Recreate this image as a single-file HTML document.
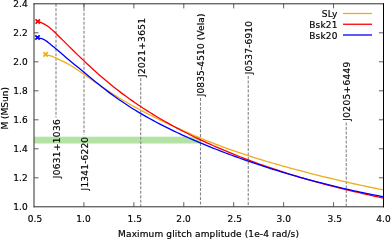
<!DOCTYPE html>
<html><head><meta charset="utf-8"><title>plot</title>
<style>
html,body{margin:0;padding:0;background:#fff;}
svg{display:block;will-change:transform;opacity:0.999;}
text{font-family:"DejaVu Sans","Liberation Sans",sans-serif;font-size:9px;fill:#000;stroke:#000;stroke-width:0.18px;}
</style></head><body>
<svg width="391" height="240" viewBox="0 0 391 240">
<rect x="0" y="0" width="391" height="240" fill="#ffffff"/>

<rect x="34.0" y="136.7" width="166.5" height="6.8" fill="#b4e3a5"/>
<line x1="56.0" y1="3.8" x2="56.0" y2="117.5" stroke="#858585" stroke-width="1.1" stroke-dasharray="3,1.5"/>
<line x1="84.0" y1="3.8" x2="84.0" y2="134.7" stroke="#858585" stroke-width="1.1" stroke-dasharray="3,1.5"/>
<line x1="140.7" y1="78.2" x2="140.7" y2="206.8" stroke="#858585" stroke-width="1.1" stroke-dasharray="3,1.5"/>
<line x1="200.5" y1="98.0" x2="200.5" y2="206.8" stroke="#858585" stroke-width="1.1" stroke-dasharray="3,1.5"/>
<line x1="248.25" y1="76.0" x2="248.25" y2="206.8" stroke="#858585" stroke-width="1.1" stroke-dasharray="3,1.5"/>
<line x1="346.25" y1="122.4" x2="346.25" y2="206.8" stroke="#858585" stroke-width="1.1" stroke-dasharray="3,1.5"/>
<path d="M45.60,54.40 L46.60,54.81 L47.60,55.11 L48.60,55.35 L49.60,55.58 L50.60,55.85 L51.60,56.20 L52.60,56.59 L53.60,57.02 L54.60,57.48 L55.60,57.95 L56.60,58.44 L57.60,58.91 L58.60,59.38 L59.60,59.84 L60.00,60.02 L63.00,61.40 L66.00,62.87 L69.00,64.50 L72.00,66.28 L75.00,68.18 L78.00,70.17 L81.00,72.22 L84.00,74.30 L87.00,76.40 L90.00,78.51 L93.00,80.62 L96.00,82.73 L99.00,84.81 L102.00,86.86 L105.00,88.88 L108.00,90.86 L111.00,92.81 L114.00,94.72 L117.00,96.60 L120.00,98.45 L123.00,100.25 L126.00,102.02 L129.00,103.76 L132.00,105.46 L135.00,107.13 L138.00,108.76 L141.00,110.36 L144.00,111.94 L147.00,113.48 L150.00,115.00 L153.00,116.50 L156.00,117.97 L159.00,119.43 L162.00,120.87 L165.00,122.29 L168.00,123.69 L171.00,125.09 L174.00,126.47 L177.00,127.84 L180.00,129.20 L183.00,130.54 L186.00,131.87 L189.00,133.19 L192.00,134.49 L195.00,135.78 L198.00,137.05 L201.00,138.31 L204.00,139.55 L207.00,140.77 L210.00,141.97 L213.00,143.16 L216.00,144.33 L219.00,145.48 L222.00,146.61 L225.00,147.71 L228.00,148.80 L231.00,149.88 L234.00,150.93 L237.00,151.97 L240.00,152.99 L243.00,153.99 L246.00,154.98 L249.00,155.95 L252.00,156.91 L255.00,157.85 L258.00,158.79 L261.00,159.70 L264.00,160.61 L267.00,161.50 L270.00,162.38 L273.00,163.25 L276.00,164.11 L279.00,164.96 L282.00,165.80 L285.00,166.63 L288.00,167.46 L291.00,168.27 L294.00,169.08 L297.00,169.88 L300.00,170.68 L303.00,171.46 L306.00,172.24 L309.00,173.01 L312.00,173.78 L315.00,174.54 L318.00,175.29 L321.00,176.03 L324.00,176.77 L327.00,177.50 L330.00,178.22 L333.00,178.93 L336.00,179.64 L339.00,180.34 L342.00,181.04 L345.00,181.73 L348.00,182.41 L351.00,183.08 L354.00,183.75 L357.00,184.41 L360.00,185.06 L363.00,185.71 L366.00,186.35 L369.00,186.99 L372.00,187.61 L375.00,188.24 L378.00,188.85 L381.00,189.46 L383.50,189.96" stroke="#ecae1c" stroke-width="1.3" fill="none" stroke-linejoin="round"/>
<path d="M37.75,21.50 L38.75,21.74 L39.75,22.06 L40.75,22.43 L41.75,22.86 L42.75,23.34 L43.75,23.87 L44.75,24.43 L45.75,25.02 L46.75,25.66 L47.75,26.33 L48.75,27.05 L49.75,27.82 L50.75,28.63 L51.75,29.49 L52.75,30.38 L53.75,31.31 L54.75,32.26 L55.75,33.23 L56.75,34.21 L57.75,35.20 L58.75,36.19 L59.75,37.18 L60.00,37.43 L63.00,40.41 L66.00,43.39 L69.00,46.35 L72.00,49.30 L75.00,52.23 L78.00,55.14 L81.00,58.03 L84.00,60.89 L87.00,63.73 L90.00,66.54 L93.00,69.30 L96.00,72.02 L99.00,74.69 L102.00,77.30 L105.00,79.86 L108.00,82.36 L111.00,84.81 L114.00,87.21 L117.00,89.56 L120.00,91.86 L123.00,94.11 L126.00,96.32 L129.00,98.49 L132.00,100.61 L135.00,102.69 L138.00,104.74 L141.00,106.74 L144.00,108.71 L147.00,110.64 L150.00,112.53 L153.00,114.39 L156.00,116.21 L159.00,118.00 L162.00,119.76 L165.00,121.49 L168.00,123.18 L171.00,124.85 L174.00,126.49 L177.00,128.10 L180.00,129.68 L183.00,131.24 L186.00,132.77 L189.00,134.27 L192.00,135.75 L195.00,137.21 L198.00,138.65 L201.00,140.06 L204.00,141.45 L207.00,142.82 L210.00,144.17 L213.00,145.51 L216.00,146.82 L219.00,148.12 L222.00,149.39 L225.00,150.66 L228.00,151.90 L231.00,153.13 L234.00,154.35 L237.00,155.55 L240.00,156.73 L243.00,157.90 L246.00,159.05 L249.00,160.18 L252.00,161.30 L255.00,162.41 L258.00,163.50 L261.00,164.58 L264.00,165.64 L267.00,166.68 L270.00,167.71 L273.00,168.73 L276.00,169.74 L279.00,170.72 L282.00,171.70 L285.00,172.66 L288.00,173.61 L291.00,174.55 L294.00,175.47 L297.00,176.38 L300.00,177.27 L303.00,178.15 L306.00,179.03 L309.00,179.88 L312.00,180.73 L315.00,181.57 L318.00,182.39 L321.00,183.21 L324.00,184.01 L327.00,184.80 L330.00,185.58 L333.00,186.36 L336.00,187.12 L339.00,187.87 L342.00,188.61 L345.00,189.35 L348.00,190.08 L351.00,190.79 L354.00,191.50 L357.00,192.21 L360.00,192.90 L363.00,193.59 L366.00,194.27 L369.00,194.94 L372.00,195.61 L375.00,196.27 L378.00,196.92 L381.00,197.57 L383.50,198.11" stroke="#ff0000" stroke-width="1.3" fill="none" stroke-linejoin="round"/>
<path d="M37.50,37.50 L38.50,37.81 L39.50,38.08 L40.50,38.33 L41.50,38.61 L42.50,38.93 L43.50,39.32 L44.50,39.82 L45.50,40.43 L46.50,41.12 L47.50,41.88 L48.50,42.68 L49.50,43.50 L50.50,44.32 L51.50,45.14 L52.50,45.96 L53.50,46.77 L54.50,47.59 L55.50,48.41 L56.50,49.24 L57.50,50.08 L58.50,50.94 L59.50,51.80 L60.00,52.24 L63.00,54.86 L66.00,57.47 L69.00,60.00 L72.00,62.47 L75.00,64.89 L78.00,67.31 L81.00,69.75 L84.00,72.23 L87.00,74.72 L90.00,77.22 L93.00,79.71 L96.00,82.18 L99.00,84.62 L102.00,87.01 L105.00,89.34 L108.00,91.63 L111.00,93.87 L114.00,96.05 L117.00,98.19 L120.00,100.28 L123.00,102.33 L126.00,104.32 L129.00,106.28 L132.00,108.18 L135.00,110.05 L138.00,111.87 L141.00,113.65 L144.00,115.40 L147.00,117.11 L150.00,118.78 L153.00,120.42 L156.00,122.03 L159.00,123.60 L162.00,125.15 L165.00,126.67 L168.00,128.17 L171.00,129.64 L174.00,131.08 L177.00,132.51 L180.00,133.91 L183.00,135.30 L186.00,136.66 L189.00,138.00 L192.00,139.32 L195.00,140.63 L198.00,141.91 L201.00,143.18 L204.00,144.43 L207.00,145.66 L210.00,146.88 L213.00,148.08 L216.00,149.27 L219.00,150.44 L222.00,151.60 L225.00,152.74 L228.00,153.87 L231.00,154.99 L234.00,156.09 L237.00,157.18 L240.00,158.26 L243.00,159.32 L246.00,160.38 L249.00,161.42 L252.00,162.44 L255.00,163.46 L258.00,164.46 L261.00,165.45 L264.00,166.43 L267.00,167.40 L270.00,168.35 L273.00,169.30 L276.00,170.23 L279.00,171.15 L282.00,172.06 L285.00,172.96 L288.00,173.85 L291.00,174.73 L294.00,175.60 L297.00,176.46 L300.00,177.30 L303.00,178.14 L306.00,178.97 L309.00,179.78 L312.00,180.59 L315.00,181.39 L318.00,182.17 L321.00,182.95 L324.00,183.71 L327.00,184.47 L330.00,185.21 L333.00,185.94 L336.00,186.67 L339.00,187.38 L342.00,188.08 L345.00,188.77 L348.00,189.45 L351.00,190.12 L354.00,190.79 L357.00,191.44 L360.00,192.08 L363.00,192.71 L366.00,193.33 L369.00,193.93 L372.00,194.53 L375.00,195.12 L378.00,195.70 L381.00,196.27 L383.50,196.73" stroke="#0000ff" stroke-width="1.3" fill="none" stroke-linejoin="round"/>
<path d="M43.4,52.199999999999996 L47.800000000000004,56.6 M43.4,56.6 L47.800000000000004,52.199999999999996" stroke="#ecae1c" stroke-width="1.7" fill="none"/>
<path d="M35.55,19.3 L39.95,23.7 M35.55,23.7 L39.95,19.3" stroke="#ff0000" stroke-width="1.7" fill="none"/>
<path d="M35.3,35.3 L39.7,39.7 M35.3,39.7 L39.7,35.3" stroke="#0000ff" stroke-width="1.7" fill="none"/>
<path d="M83.93,206.8 v-4.6 M83.93,3.8 v4.6 M34.0,177.80 h4.6 M383.5,177.80 h-4.6 M133.86,206.8 v-4.6 M133.86,3.8 v4.6 M34.0,148.80 h4.6 M383.5,148.80 h-4.6 M183.79,206.8 v-4.6 M183.79,3.8 v4.6 M34.0,119.80 h4.6 M383.5,119.80 h-4.6 M233.71,206.8 v-4.6 M233.71,3.8 v4.6 M34.0,90.80 h4.6 M383.5,90.80 h-4.6 M283.64,206.8 v-4.6 M283.64,3.8 v4.6 M34.0,61.80 h4.6 M383.5,61.80 h-4.6 M333.57,206.8 v-4.6 M333.57,3.8 v4.6 M34.0,32.80 h4.6 M383.5,32.80 h-4.6" stroke="#606060" stroke-width="1" fill="none"/>
<path d="M34.0,3.3 V207.3 M33.5,3.8 H384.0 M33.5,206.8 H384.0" fill="none" stroke="#2e2e2e" stroke-width="1"/>
<path d="M383.5,3.3 V207.3" fill="none" stroke="#000" stroke-width="1"/>
<text x="13.2" y="210.20" textLength="14.6">1.0</text>
<text x="27.8" y="221.5" textLength="14.5">0.5</text>
<text x="13.2" y="181.20" textLength="14.6">1.2</text>
<text x="76.25" y="221.5" textLength="14.5">1.0</text>
<text x="13.2" y="152.20" textLength="14.6">1.4</text>
<text x="127.4" y="221.5" textLength="14.5">1.5</text>
<text x="13.2" y="123.20" textLength="14.6">1.6</text>
<text x="176.35" y="221.5" textLength="14.5">2.0</text>
<text x="13.2" y="94.20" textLength="14.6">1.8</text>
<text x="227.4" y="221.5" textLength="14.5">2.5</text>
<text x="13.2" y="65.20" textLength="14.6">2.0</text>
<text x="276.5" y="221.5" textLength="14.5">3.0</text>
<text x="13.2" y="36.20" textLength="14.6">2.2</text>
<text x="327.5" y="221.5" textLength="14.5">3.5</text>
<text x="13.2" y="7.20" textLength="14.6">2.4</text>
<text x="376.3" y="221.5" textLength="14.5">4.0</text>
<text x="118.1" y="237.4" textLength="180.8">Maximum glitch amplitude (1e-4 rad/s)</text>
<text transform="translate(8.3,129.6) rotate(-90)" textLength="42.5">M (MSun)</text>
<text transform="translate(59.80,178.3) rotate(-90)" textLength="59">J0631+1036</text>
<text transform="translate(87.80,190.4) rotate(-90)" textLength="53.5">J1341-6220</text>
<text transform="translate(144.50,77.0) rotate(-90)" textLength="59">J2021+3651</text>
<text transform="translate(204.30,96.3) rotate(-90)" textLength="82.8">J0835-4510 (Vela)</text>
<text transform="translate(252.05,74.3) rotate(-90)" textLength="53.3">J0537-6910</text>
<text transform="translate(350.05,120.7) rotate(-90)" textLength="59">J0205+6449</text>
<text x="321.80" y="17.10" textLength="15.6">SLy</text>
<line x1="343" y1="13.5" x2="372" y2="13.5" stroke="#ecae1c" stroke-width="1.3"/>
<text x="309.30" y="27.85" textLength="28.1">Bsk21</text>
<line x1="343" y1="24.25" x2="372" y2="24.25" stroke="#ff0000" stroke-width="1.3"/>
<text x="309.30" y="38.60" textLength="28.1">Bsk20</text>
<line x1="343" y1="35.0" x2="372" y2="35.0" stroke="#0000ff" stroke-width="1.3"/>
</svg></body></html>
